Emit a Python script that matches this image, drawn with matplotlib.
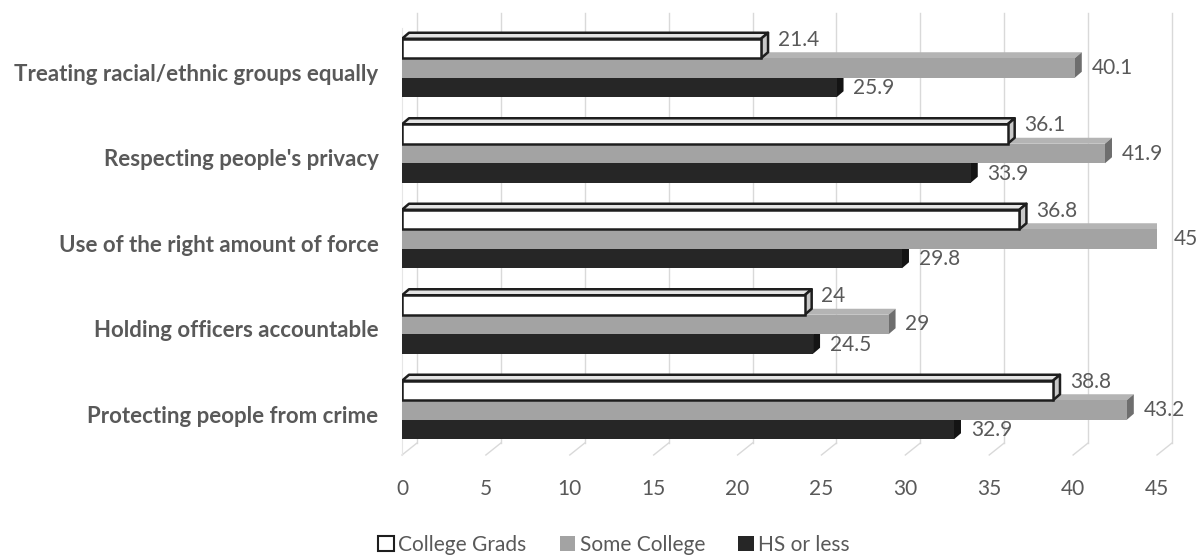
import matplotlib
matplotlib.use("Agg")
import matplotlib.pyplot as plt
from matplotlib.patches import Polygon, Patch
import numpy as np

plt.rcParams['font.family'] = ['Lato', 'DejaVu Sans']

# Categories listed bottom to top as they appear on the y axis
categories = [
    "Protecting people from crime",
    "Holding officers accountable",
    "Use of the right amount of force",
    "Respecting people's privacy",
    "Treating racial/ethnic groups equally",
]
series_names = ["College Grads", "Some College", "HS or less"]
college_grads = [38.8, 24, 36.8, 36.1, 21.4]
some_college = [43.2, 29, 45, 41.9, 40.1]
hs_or_less = [32.9, 24.5, 29.8, 33.9, 25.9]
x_ticks = [0, 5, 10, 15, 20, 25, 30, 35, 40, 45]

TEXT = "#595959"
EDGE = "#1e1e1e"

# face, top, side, edge colour per series
styles = {
    "College Grads": dict(face="#ffffff", top="#e4e4e4", side="#c8c8c8", edge=EDGE, lw=1.8),
    "Some College": dict(face="#a3a3a3", top="#b4b4b4", side="#6e6e6e", edge=None, lw=0),
    "HS or less": dict(face="#262626", top="#3a3a3a", side="#141414", edge=None, lw=0),
}

fig = plt.figure(figsize=(12, 5.55), dpi=100)
W, H = 1200, 555
x_left, x_right = 402, 1157
y_top, y_bot = 13, 455
ax = fig.add_axes([x_left / W, 1 - y_bot / H, (x_right - x_left) / W, (y_bot - y_top) / H])

px_per_x = (x_right - x_left) / 45.0
group_px = 85.5
ylo = -(y_bot - 410) / group_px
yhi = (410 - y_top) / group_px
ax.set_xlim(0, 45)
ax.set_ylim(ylo, yhi)

bar_h = 19.5 / group_px
bar_dx = 7 / px_per_x
bar_dy = 6 / group_px
wall_dx = 15 / px_per_x
wall_dy = 12 / group_px

# back wall gridlines with floor segments
for t in x_ticks:
    ax.plot([t + wall_dx, t + wall_dx], [ylo + wall_dy, yhi], color="#d9d9d9", lw=1.0,
            clip_on=False, zorder=0)
    ax.plot([t, t + wall_dx], [ylo, ylo + wall_dy], color="#d9d9d9", lw=1.0,
            clip_on=False, zorder=0)
ax.plot([0, 0], [ylo, yhi - 0.17], color="#e6e6e6", lw=0.8, clip_on=False, zorder=0)

centers = np.arange(len(categories))
offsets = {"College Grads": bar_h, "Some College": 0.0, "HS or less": -bar_h}
data = {"College Grads": college_grads, "Some College": some_college, "HS or less": hs_or_less}


def draw_bar(v, yc, st, z):
    yb, yt = yc - bar_h / 2, yc + bar_h / 2
    ec = st["edge"] if st["edge"] else "none"
    top = Polygon([(0, yt), (v, yt), (v + bar_dx, yt + bar_dy), (bar_dx, yt + bar_dy)],
                  closed=True, facecolor=st["top"], edgecolor=ec, lw=st["lw"], zorder=z,
                  joinstyle="round")
    side = Polygon([(v, yb), (v, yt), (v + bar_dx, yt + bar_dy), (v + bar_dx, yb + bar_dy)],
                   closed=True, facecolor=st["side"], edgecolor=ec, lw=st["lw"], zorder=z,
                   joinstyle="round")
    ax.add_patch(top)
    ax.add_patch(side)


# lower series first so the bar above overlaps its top face
z = 2
for name in ["HS or less", "Some College", "College Grads"]:
    st = styles[name]
    vals = data[name]
    ys = centers + offsets[name]
    for v, yc in zip(vals, ys):
        draw_bar(v, yc, st, z)
    ax.barh(ys, vals, height=bar_h, color=st["face"],
            edgecolor=st["edge"] if st["edge"] else "none", linewidth=st["lw"], zorder=z + 0.5)
    z += 1

# value labels
label_dy = {"College Grads": 0.105, "Some College": 0.0, "HS or less": -0.01}
for name in series_names:
    for v, yc in zip(data[name], centers + offsets[name]):
        ax.text(v + 1.0, yc + label_dy[name], f"{v:g}", ha="left", va="center",
                fontsize=15, color=TEXT, zorder=10)

ax.set_yticks(centers - 0.05)
ax.set_yticklabels(categories, fontsize=16, fontweight="bold", color=TEXT)
ax.set_xticks(x_ticks)
ax.set_xticklabels([str(t) for t in x_ticks], fontsize=15, color=TEXT)
ax.tick_params(axis="y", length=0, pad=17)
ax.tick_params(axis="x", length=0, pad=17)
for s in ax.spines.values():
    s.set_visible(False)
ax.set_facecolor("none")

handles = [
    Patch(facecolor="#ffffff", edgecolor=EDGE, linewidth=1.5),
    Patch(facecolor="#a3a3a3", edgecolor="none"),
    Patch(facecolor="#262626", edgecolor="none"),
]
fig.legend(handles, series_names, loc="center", bbox_to_anchor=(614 / W, 1 - 545 / H),
           ncol=3, frameon=False, fontsize=15, labelcolor=TEXT, handlelength=0.75,
           handleheight=0.75, handletextpad=0.2, columnspacing=1.6)

fig.savefig("out.png", dpi=100, facecolor="white")
